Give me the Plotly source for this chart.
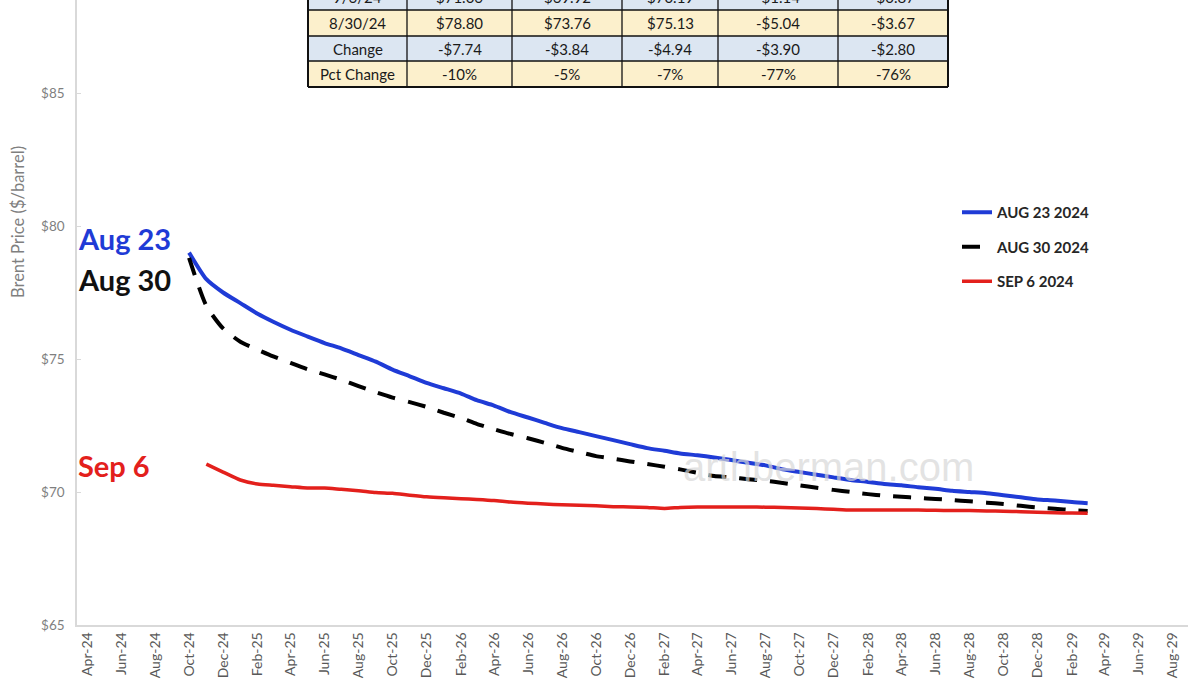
import plotly.graph_objects as go
import pandas as pd

# ---------------- data ----------------
aug23_start = "2024-10-01"
aug23 = [79.0, 78.0, 77.5, 77.1, 76.7, 76.4, 76.1, 75.85, 75.6, 75.4,
         75.15, 74.9, 74.6, 74.35, 74.1, 73.9, 73.7, 73.45, 73.25, 73.0,
         72.8, 72.6, 72.4, 72.25, 72.1, 71.95, 71.8, 71.65, 71.55, 71.45,
         71.38, 71.3, 71.2, 71.1, 71.0, 70.85, 70.75, 70.65, 70.55, 70.45,
         70.38, 70.3, 70.25, 70.18, 70.12, 70.05, 70.0, 69.95, 69.88, 69.8,
         69.72, 69.68, 69.62, 69.58]

aug30_start = "2024-10-01"
aug30 = [78.8, 77.0, 76.15, 75.65, 75.35, 75.1, 74.85, 74.62, 74.42, 74.22,
         73.98, 73.75, 73.55, 73.38, 73.2, 72.98, 72.78, 72.56, 72.36, 72.18,
         72.02, 71.85, 71.66, 71.5, 71.35, 71.25, 71.15, 71.05, 70.95, 70.85,
         70.72, 70.6, 70.55, 70.48, 70.42, 70.34, 70.25, 70.16, 70.08, 70.0,
         69.92, 69.86, 69.82, 69.78, 69.74, 69.7, 69.65, 69.6, 69.55, 69.48,
         69.42, 69.37, 69.32, 69.29]

sep6_start = "2024-11-01"
sep6 = [71.05, 70.75, 70.45, 70.3, 70.25, 70.2, 70.15, 70.15, 70.1,
        70.05, 69.98, 69.95, 69.88, 69.82, 69.78, 69.75, 69.72, 69.68, 69.62,
        69.58, 69.55, 69.52, 69.5, 69.48, 69.45, 69.44, 69.42, 69.38, 69.42,
        69.44, 69.44, 69.44, 69.44, 69.43, 69.42, 69.4, 69.38, 69.35, 69.32,
        69.32, 69.32, 69.32, 69.32, 69.31, 69.3, 69.3, 69.29, 69.28, 69.26,
        69.24, 69.22, 69.21, 69.2]

series_names = ["AUG 23 2024", "AUG 30 2024", "SEP 6 2024"]
series_colors = ["#1f3bd6", "#000000", "#e3201c"]

y_ticks = [65, 70, 75, 80, 85]
y_tick_labels = ["$65", "$70", "$75", "$80", "$85"]

# table (top cropped in reference)
table_labels = ["9/6/24", "8/30/24", "Change", "Pct Change"]
table_rows = [
    ["$71.06", "$69.92", "$70.19", "-$1.14", "-$0.87"],
    ["$78.80", "$73.76", "$75.13", "-$5.04", "-$3.67"],
    ["-$7.74", "-$3.84", "-$4.94", "-$3.90", "-$2.80"],
    ["-10%", "-5%", "-7%", "-77%", "-76%"],
]
row_fills = ["#dce6f2", "#fcf0cc", "#dce6f2", "#fcf0cc"]

# ---------------- figure ----------------
W, H = 1188, 685
ML, MT, MB, MR = 77, 0, 60, 0
PW, PH = W - ML - MR, H - MT - MB


def px_x(x):
    return (x - ML) / PW


def px_y(y):
    return 1 - (y - MT) / PH


fig = go.Figure()
starts = [aug23_start, aug30_start, sep6_start]
vals = [aug23, aug30, sep6]
dashes = ["solid", "18px,13px", "solid"]
for i in range(3):
    xs = pd.date_range(starts[i], periods=len(vals[i]), freq="MS")
    fig.add_trace(go.Scatter(
        x=xs, y=vals[i], mode="lines", name=series_names[i],
        legendgroup=str(i),
        line=dict(color=series_colors[i], width=4 if i != 2 else 3.5,
                  dash=dashes[i], shape="spline", smoothing=0.6),
    ))

ticks_x = pd.date_range("2024-04-01", "2029-08-01", freq="2MS")

fig.update_layout(
    width=W, height=H,
    margin=dict(l=ML, r=MR, t=MT, b=MB),
    paper_bgcolor="white", plot_bgcolor="white",
    font=dict(family="Lato, Open Sans, sans-serif"),
    showlegend=True,
    legend=dict(x=px_x(957), y=px_y(196), xanchor="left", yanchor="top",
                bgcolor="rgba(0,0,0,0)", tracegroupgap=12,
                traceorder="grouped",
                font=dict(size=15, color="#262626", family="Lato", weight=700)),
    xaxis=dict(type="date", range=["2024-03-14", "2029-08-28"],
               tickvals=ticks_x, tickformat="%b-%y", tickangle=-90,
               showgrid=False, zeroline=False, showline=True,
               linecolor="#d9d9d9", linewidth=1.5, ticks="",
               tickfont=dict(size=14, color="#595959", family="Lato")),
    yaxis=dict(range=[65, 65 + PH / 26.6], tickvals=y_ticks,
               ticktext=y_tick_labels,
               showgrid=False, zeroline=False, showline=True,
               linecolor="#d9d9d9", linewidth=1.5, ticks="inside", ticklen=4,
               tickcolor="#d9d9d9", ticklabelstandoff=8,
               tickfont=dict(size=13.5, color="#7f7f7f", family="Lato")),
)

annos = []
shapes = []
# y-axis title
annos.append(dict(x=px_x(18), y=px_y(222), xref="paper", yref="paper",
                  text="Brent Price ($/barrel)", textangle=-90, showarrow=False,
                  xanchor="center", yanchor="middle",
                  font=dict(size=16.5, color="#7f7f7f", family="Lato")))
# left labels
for txt, col, yy in [("Aug 23", "#1f3bd6", 238), ("Aug 30", "#111111", 280),
                     ("Sep 6", "#e3201c", 465)]:
    annos.append(dict(x=px_x(76), y=px_y(yy), xref="paper", yref="paper",
                      text=txt, showarrow=False, xanchor="left", yanchor="middle",
                      font=dict(size=29, color=col, family="Lato", weight=700)))
# watermark
annos.append(dict(x=px_x(829), y=px_y(467), xref="paper", yref="paper",
                  text="arthberman.com", showarrow=False,
                  xanchor="center", yanchor="middle",
                  font=dict(size=40, color="rgba(215,215,215,0.7)",
                            family="Liberation Sans")))

# table
col_edges = [308, 407, 512, 622, 718, 838, 948]
row_edges = [-16, 10, 36, 61, 87]
for r in range(4):
    y0, y1 = row_edges[r], row_edges[r + 1]
    shapes.append(dict(type="rect", xref="paper", yref="paper",
                       x0=px_x(col_edges[0]), x1=px_x(col_edges[-1]),
                       y0=px_y(y1), y1=px_y(y0), fillcolor=row_fills[r],
                       line=dict(width=0), layer="above"))
    cells = [table_labels[r]] + table_rows[r]
    for c in range(6):
        xc = (col_edges[c] + col_edges[c + 1]) / 2
        annos.append(dict(x=px_x(xc), y=px_y((y0 + y1) / 2), xref="paper",
                          yref="paper", text=cells[c], showarrow=False,
                          xanchor="center", yanchor="middle",
                          font=dict(size=15, color="#1a1a1a", family="Lato")))
for yy in row_edges[1:]:
    shapes.append(dict(type="line", xref="paper", yref="paper",
                       x0=px_x(col_edges[0]), x1=px_x(col_edges[-1]),
                       y0=px_y(yy), y1=px_y(yy),
                       line=dict(color="#111111", width=2 if yy == 87 else 1.3),
                       layer="above"))
for i, xx in enumerate(col_edges):
    shapes.append(dict(type="line", xref="paper", yref="paper",
                       x0=px_x(xx), x1=px_x(xx), y0=px_y(87), y1=px_y(-16),
                       line=dict(color="#111111",
                                 width=2 if i in (0, 6) else 1.3),
                       layer="above"))

fig.update_layout(annotations=annos, shapes=shapes)

fig.write_html("out.html", include_plotlyjs=True, full_html=True,
               config={"displayModeBar": False},
               post_script="document.body.style.margin='0';")
